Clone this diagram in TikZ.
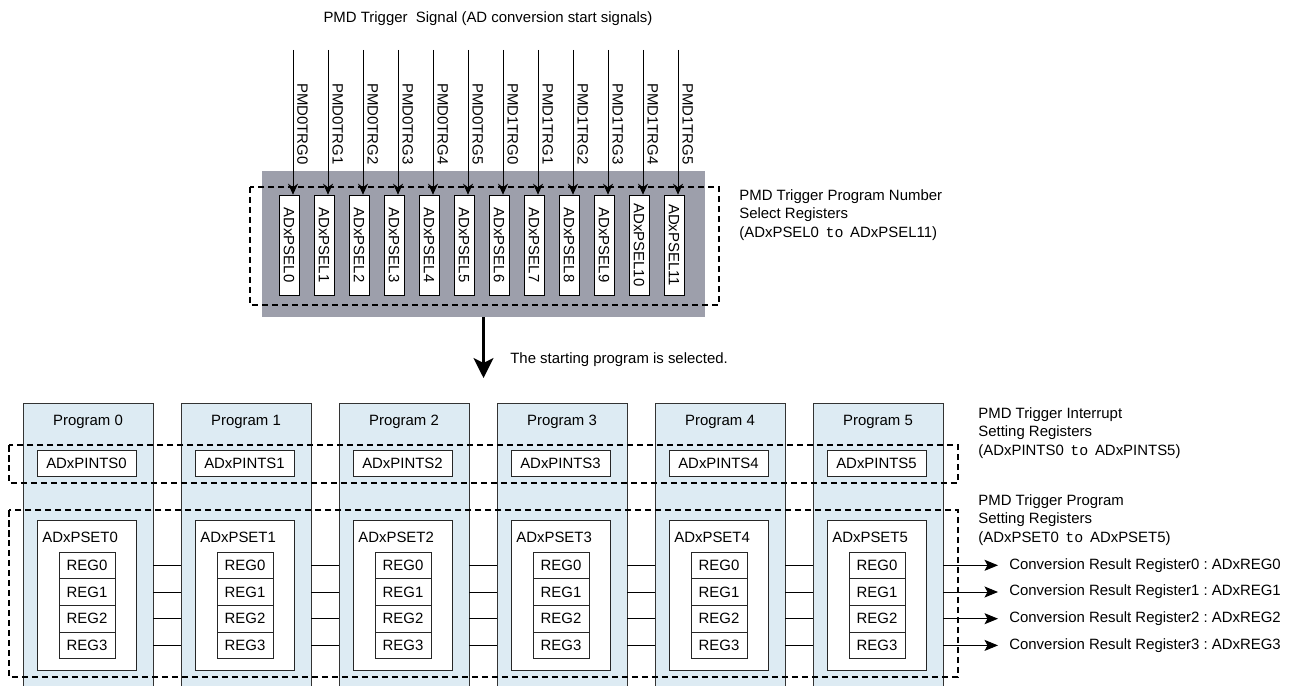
\documentclass[tikz,border=0pt]{standalone}
\usepackage{fontspec}
\setmainfont{Liberation Sans}
\setmonofont{Liberation Mono}
\usepackage{xcolor}
\usetikzlibrary{arrows.meta,positioning,calc}
\definecolor{panelgray}{HTML}{9D9FAB}
\definecolor{progblue}{HTML}{DDEBF3}
\tikzset{
	txt/.style={font=\fontsize{8.5}{10.5}\selectfont, inner sep=0pt},
	panel/.style={fill=panelgray, minimum width=8.86cm, minimum height=2.92cm, inner sep=0pt},
	selbox/.style={draw, fill=white, rotate=-90, minimum width=2cm, minimum height=0.4cm, txt},
	colbox/.style={draw=black!80, fill=progblue, minimum width=2.6cm, minimum height=5.9cm, inner sep=0pt},
	regbox/.style={draw=black!85, fill=white, txt},
	zone/.style={dash pattern=on 0.13cm off 0.07cm, line width=1.1pt},
	flow/.style={-{Stealth[length=0.22cm, width=0.2cm]}, line width=0.5pt},
	outflow/.style={-{Stealth[length=0.27cm, width=0.22cm, inset=0.06cm]}, line width=0.5pt},
	bigflow/.style={-{Stealth[length=0.4cm, width=0.4cm, inset=0.1cm]}, line width=1.3pt},
	link/.style={line width=0.5pt}
}
\begin{document}
\begin{tikzpicture}[x=0.02cm, y=-0.02cm]
	\useasboundingbox (0,0) rectangle (1295,686);
	% trigger signals and select registers
	\node[txt] (title) at (488,19) {PMD Trigger\ \ Signal (AD conversion start signals)};
	\node[panel] (panel) at (483.5,244) {};
	\foreach \i in {0,...,11} {
		\pgfmathtruncatemacro\unitno{int(\i/6)}
		\pgfmathtruncatemacro\trgno{mod(\i,6)}
		\node[selbox] (sel\i) at (289+35*\i, 245) {ADxPSEL\i};
		\coordinate (trig\i) at (293+35*\i, 50);
		\draw[flow] (trig\i) -- (trig\i |- sel\i.west);
		\node[txt, rotate=-90, anchor=south west] (trgname\i) at (297+35*\i, 83) {PMD\unitno TRG\trgno};
	}
	\draw[zone] (250,187) rectangle (719,305);
	\node[txt, anchor=north west, align=left] (selnote) at (739,189) {PMD Trigger Program Number\\Select Registers\\(ADxPSEL0\ \,\texttt{to}\,\ ADxPSEL11)};
	\coordinate (selpt) at (483.5,378);
	\draw[bigflow] (panel.south) -- (selpt);
	\node[txt, anchor=west] (seltxt) at (510,360) {The starting program is selected.};
	% programs
	\foreach \i in {0,...,5} {
		\node[colbox, anchor=north] (col\i) at (88+158*\i, 403) {};
		\node[txt] (pname\i) at (88+158*\i, 422) {Program \i};
	}
	\draw[zone] (9,445) rectangle (958,483);
	\draw[zone] (9,510) rectangle (958,677);
	\node[txt, anchor=north west, align=left] (intnote) at (978,407) {PMD Trigger Interrupt\\Setting Registers\\(ADxPINTS0\ \,\texttt{to}\,\ ADxPINTS5)};
	\node[txt, anchor=north west, align=left] (setnote) at (978,494) {PMD Trigger Program\\Setting Registers\\(ADxPSET0\ \,\texttt{to}\,\ ADxPSET5)};
	\foreach \i in {0,...,5} {
		\node[regbox, minimum width=1.98cm, minimum height=0.52cm] (pints\i) at (86.5+158*\i, 463) {ADxPINTS\i};
		\node[regbox, minimum width=1.98cm, minimum height=3cm] (pset\i) at (86.5+158*\i, 595) {};
		\node[txt, anchor=base west] (psetname\i) at (42+158*\i, 542) {ADxPSET\i};
		\foreach \j in {0,...,3}
			\node[regbox, minimum width=1.12cm, minimum height=0.534cm] (reg\i\j) at (87+158*\i, 565.3+26.7*\j) {REG\j};
	}
	\foreach \i in {0,...,4} {
		\pgfmathtruncatemacro\nxt{\i+1}
		\foreach \j in {0,...,3}
			\draw[link] (reg\i\j -| col\i.east) -- (reg\i\j -| col\nxt.west);
	}
	% result registers
	\foreach \j in {0,...,3} {
		\node[txt, anchor=west, inner xsep=0.22cm] (out\j) at (998, 565.3+26.7*\j) {Conversion Result Register\j\ :\ ADxREG\j};
		\draw[outflow] (reg5\j -| col5.east) -- (out\j);
	}
\end{tikzpicture}
\end{document}
